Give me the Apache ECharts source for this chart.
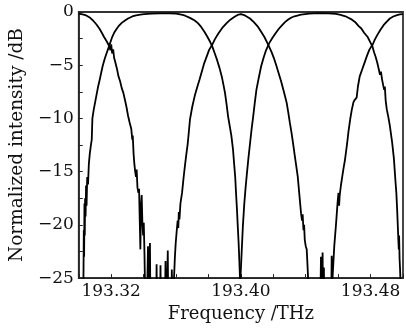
<!DOCTYPE html>
<html><head><meta charset="utf-8">
<script src="https://cdn.jsdelivr.net/npm/echarts@6/dist/echarts.min.js"></script>
<style>html,body{margin:0;padding:0;background:#fff}#c{width:406px;height:328px}</style>
</head><body><div id="c"></div>
<script>
const xTickLabels = ['193.32', '193.40', '193.48'];
const yTickLabels = ['0', '-5', '-10', '-15', '-20', '-25'];

const curveL = [
[193.3000,-0.15],[193.3030,-0.25],[193.3049,-0.35],[193.3070,-0.55],[193.3088,-0.80],[193.3108,-1.15],[193.3127,-1.55],[193.3142,-1.95],[193.3156,-2.35],[193.3172,-2.75],[193.3186,-3.15],[193.3195,-3.60],[193.3200,-3.05],[193.3206,-3.90],[193.3212,-3.50],[193.3218,-4.30],[193.3225,-4.70],[193.3235,-5.30],[193.3245,-6.05],[193.3255,-6.50],[193.3265,-7.15],[193.3275,-7.60],[193.3284,-8.20],[193.3294,-8.90],[193.3304,-9.75],[193.3314,-10.40],[193.3324,-11.00],[193.3330,-12.00],[193.3333,-11.60],[193.3338,-13.30],[193.3343,-14.30],[193.3348,-15.00],[193.3353,-15.50],[193.3357,-14.80],[193.3362,-16.50],[193.3368,-17.00],[193.3372,-16.60],[193.3376,-19.50],[193.3380,-22.30],[193.3384,-18.20],[193.3388,-17.20],[193.3392,-19.60],[193.3397,-21.00],[193.3401,-19.80],[193.3405,-22.50],[193.3410,-27.0],[193.3418,-30],[193.3424,-30],[193.3427,-22.0],[193.3431,-30],[193.3436,-30],[193.3439,-21.7],[193.3443,-30],[193.3476,-30],[193.3480,-23.7],[193.3484,-30],[193.3500,-30],[193.3504,-23.8],[193.3508,-30],[193.3530,-30],[193.3535,-23.4],[193.3540,-30],[193.3545,-30],[193.3549,-22.4],[193.3553,-30],[193.3570,-30],[193.3574,-24.2],[193.3578,-30]
];

const curve1 = [
[193.3020,-30],[193.3029,-24.8],[193.3031,-20.5],[193.3033,-23.0],[193.3035,-18.0],[193.3037,-21.0],[193.3039,-17.5],[193.3042,-19.2],[193.3045,-16.3],[193.3048,-18.2],[193.3052,-15.5],[193.3057,-16.2],[193.3062,-14.3],[193.3068,-13.3],[193.3074,-12.6],[193.3080,-12.0],[193.3084,-10.0],[193.3092,-9.2],[193.3108,-7.9],[193.3118,-7.1],[193.3127,-6.5],[193.3137,-5.8],[193.3147,-5.1],[193.3160,-4.4],[193.3171,-3.9],[193.3186,-3.25],[193.3196,-2.8],[193.3206,-2.35],[193.3220,-1.9],[193.3235,-1.55],[193.3250,-1.25],[193.3265,-1.02],[193.3285,-0.80],[193.3304,-0.61],[193.3330,-0.42],[193.3353,-0.31],[193.3380,-0.24],[193.3402,-0.20],[193.3450,-0.15],[193.3500,-0.12],[193.3560,-0.12],[193.3600,-0.15],[193.3618,-0.20],[193.3640,-0.28],[193.3656,-0.35],[193.3686,-0.55],[193.3715,-0.80],[193.3735,-1.05],[193.3755,-1.40],[193.3775,-1.85],[193.3794,-2.35],[193.3810,-2.80],[193.3824,-3.25],[193.3838,-3.85],[193.3853,-4.50],[193.3868,-5.25],[193.3882,-6.05],[193.3892,-6.80],[193.3902,-7.60],[193.3912,-8.70],[193.3921,-9.80],[193.3931,-10.70],[193.3941,-11.60],[193.3951,-12.85],[193.3958,-14.2],[193.3965,-15.50],[193.3970,-17.0],[193.3976,-18.60],[193.3981,-20.2],[193.3986,-21.70],[193.3990,-23.2],[193.3994,-24.8],[193.4000,-30]
];

const curveC = [
[193.3580,-30],[193.3588,-24.8],[193.3593,-23.0],[193.3598,-21.7],[193.3604,-20.6],[193.3610,-19.6],[193.3614,-20.3],[193.3617,-18.8],[193.3621,-19.5],[193.3627,-18.0],[193.3637,-17.0],[193.3647,-15.5],[193.3656,-14.3],[193.3664,-13.3],[193.3672,-12.4],[193.3686,-10.1],[193.3700,-8.9],[193.3715,-7.9],[193.3730,-7.1],[193.3745,-6.35],[193.3760,-5.55],[193.3774,-4.80],[193.3790,-4.15],[193.3804,-3.56],[193.3824,-3.05],[193.3840,-2.55],[193.3862,-2.00],[193.3885,-1.50],[193.3912,-1.05],[193.3935,-0.72],[193.3961,-0.45],[193.3980,-0.28],[193.4000,-0.21],[193.4025,-0.32],[193.4056,-0.61],[193.4080,-0.95],[193.4106,-1.40],[193.4125,-1.85],[193.4145,-2.35],[193.4160,-2.80],[193.4174,-3.26],[193.4190,-3.80],[193.4204,-4.35],[193.4218,-5.00],[193.4233,-5.75],[193.4248,-6.50],[193.4262,-7.30],[193.4272,-7.90],[193.4282,-8.50],[193.4292,-9.40],[193.4302,-10.40],[193.4312,-11.30],[193.4321,-12.25],[193.4326,-12.80],[193.4331,-13.35],[193.4341,-14.40],[193.4351,-15.50],[193.4361,-17.2],[193.4371,-18.9],[193.4377,-19.6],[193.4381,-19.0],[193.4386,-20.5],[193.4390,-20.0],[193.4394,-21.4],[193.4400,-22.0],[193.4406,-22.3],[193.4410,-23.5],[193.4414,-24.8],[193.4420,-30]
];

const curve3 = [
[193.3994,-30],[193.3998,-24.8],[193.4005,-22.5],[193.4012,-20.2],[193.4021,-18.0],[193.4029,-16.5],[193.4037,-15.2],[193.4046,-13.8],[193.4056,-12.4],[193.4066,-11.0],[193.4076,-9.8],[193.4086,-8.5],[193.4096,-7.3],[193.4110,-6.2],[193.4125,-5.1],[193.4140,-4.3],[193.4155,-3.6],[193.4174,-2.95],[193.4194,-2.45],[193.4214,-2.0],[193.4233,-1.6],[193.4253,-1.25],[193.4272,-0.95],[193.4292,-0.71],[193.4312,-0.52],[193.4331,-0.40],[193.4371,-0.24],[193.4420,-0.15],[193.4480,-0.10],[193.4540,-0.12],[193.4586,-0.18],[193.4615,-0.28],[193.4645,-0.40],[193.4660,-0.52],[193.4668,-0.45],[193.4685,-0.72],[193.4704,-0.93],[193.4715,-1.05],[193.4725,-1.30],[193.4743,-1.55],[193.4760,-1.95],[193.4770,-2.10],[193.4782,-2.35],[193.4797,-2.80],[193.4812,-3.26],[193.4822,-3.80],[193.4831,-4.20],[193.4841,-4.75],[193.4851,-5.40],[193.4858,-5.90],[193.4864,-5.60],[193.4871,-6.35],[193.4878,-6.90],[193.4884,-7.30],[193.4888,-7.00],[193.4893,-8.30],[193.4900,-9.15],[193.4910,-9.90],[193.4919,-10.70],[193.4927,-11.60],[193.4933,-12.25],[193.4939,-12.40],[193.4944,-13.8],[193.4949,-14.9],[193.4954,-16.0],[193.4959,-17.0],[193.4964,-18.6],[193.4968,-20.1],[193.4971,-21.3],[193.4974,-22.3],[193.4976,-21.0],[193.4979,-23.2],[193.4982,-24.2],[193.4986,-26],[193.4990,-30]
];

const curveR = [
[193.4488,-30],[193.4494,-23.0],[193.4498,-30],[193.4504,-22.6],[193.4508,-30],[193.4512,-24.0],[193.4516,-30],[193.4556,-30],[193.4560,-22.9],[193.4563,-28],[193.4566,-24.8],[193.4576,-22.0],[193.4586,-20.1],[193.4596,-18.0],[193.4602,-17.0],[193.4606,-18.2],[193.4609,-17.3],[193.4617,-16.3],[193.4625,-15.5],[193.4633,-14.7],[193.4641,-14.0],[193.4648,-13.2],[193.4655,-12.4],[193.4664,-11.2],[193.4674,-10.1],[193.4684,-9.2],[193.4694,-8.5],[193.4700,-8.3],[193.4714,-8.05],[193.4722,-7.0],[193.4733,-6.05],[193.4748,-5.40],[193.4762,-4.80],[193.4777,-4.15],[193.4792,-3.56],[193.4802,-3.30],[193.4812,-3.10],[193.4826,-2.60],[193.4841,-2.17],[193.4860,-1.70],[193.4880,-1.24],[193.4900,-0.90],[193.4919,-0.61],[193.4940,-0.42],[193.4959,-0.31],[193.4980,-0.22],[193.5000,-0.20]
];

const font = 'DejaVu Serif';
const chart = echarts.init(document.getElementById('c'), null, {renderer: 'canvas'});
const mkSeries = d => ({
  type: 'line', data: d, showSymbol: false, symbol: 'none', clip: true,
  lineStyle: {color: '#000', width: 1.8}, animation: false, z: 3
});
chart.setOption({
  animation: false,
  backgroundColor: '#fff',
  grid: {left: 68, top: 12, right: -2, bottom: 47.5, show: true, borderColor: '#333', borderWidth: 1.8, backgroundColor: 'transparent'},
  xAxis: {
    type: 'value', min: 193.30, max: 193.50, interval: 0.02,
    name: 'Frequency /THz', nameLocation: 'middle', nameGap: 24,
    nameTextStyle: {fontFamily: font, fontSize: 18, color: '#111'},
    axisLine: {show: true, onZero: false, lineStyle: {color: '#222', width: 1.5}},
    axisTick: {show: true, inside: true, length: 4, lineStyle: {color: '#222', width: 1}},
    axisLabel: {margin: 5, fontFamily: font, fontSize: 17, color: '#111',
      formatter: v => { const s = v.toFixed(2); return xTickLabels.includes(s) ? s : ''; }},
    splitLine: {show: false}
  },
  yAxis: {
    type: 'value', min: -25, max: 0, interval: 2.5,
    name: 'Normalized intensity /dB', nameLocation: 'middle', nameGap: 43,
    nameTextStyle: {fontFamily: font, fontSize: 18.5, color: '#111'},
    axisLine: {show: true, onZero: false, lineStyle: {color: '#222', width: 1.5}},
    axisTick: {show: true, inside: true, length: 4, lineStyle: {color: '#222', width: 1}},
    axisLabel: {margin: 5, fontFamily: font, fontSize: 17, color: '#111',
      formatter: v => { const s = String(v); return yTickLabels.includes(s) ? s.replace('-', '\u2212') : ''; }},
    splitLine: {show: false}
  },
  series: [curveL, curve1, curveC, curve3, curveR].map(mkSeries)
});
</script></body></html>
